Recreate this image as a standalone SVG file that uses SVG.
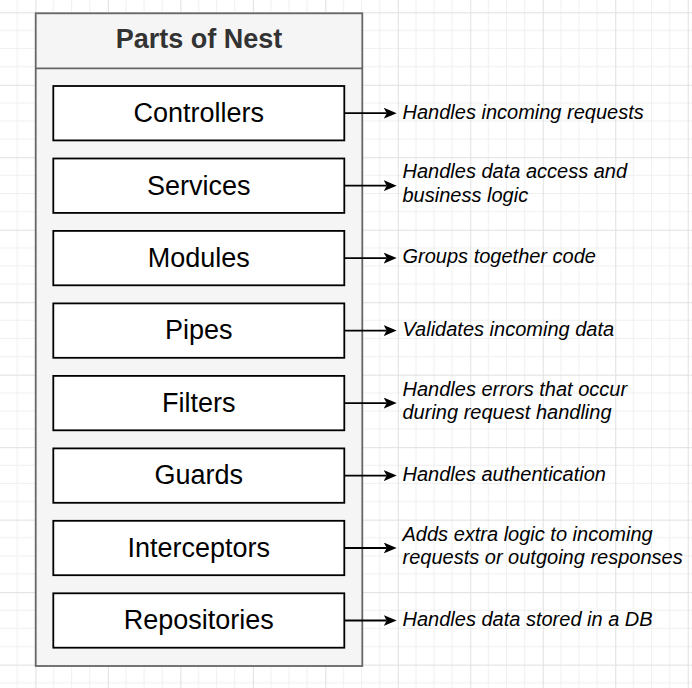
<svg xmlns="http://www.w3.org/2000/svg" width="692" height="688" viewBox="0 0 692 688">
<defs>
<pattern id="grid" patternUnits="userSpaceOnUse" x="35.4" y="12.3" width="72.48" height="72.48">
<path d="M18.12,0V72.48M36.24,0V72.48M54.36,0V72.48M0,18.12H72.48M0,36.24H72.48M0,54.36H72.48" stroke="#f0f0f0" stroke-width="1" fill="none"/>
<path d="M0.5,0V72.48M0,0.5H72.48" stroke="#e0e0e0" stroke-width="1" fill="none"/>
</pattern>
<marker id="arr" markerUnits="userSpaceOnUse" markerWidth="14" markerHeight="12" refX="3" refY="5.5" orient="auto">
<path d="M0,0 L13,5.5 L0,11 L3,5.5 Z" fill="#000"/>
</marker>
<style>
.part{fill:#fff;stroke:#000;stroke-width:1.8}
.pt{font-family:"Liberation Sans",Arial,sans-serif;font-size:27px;fill:#000;text-anchor:middle}
.desc{font-family:"Liberation Sans",Arial,sans-serif;font-size:20px;font-style:italic;fill:#000}
.conn{stroke:#000;stroke-width:1.8;fill:none;marker-end:url(#arr)}
</style>
</defs>
<rect width="692" height="688" fill="#fff"/>
<rect width="692" height="688" fill="url(#grid)"/>

<g id="container">
<rect x="35.7" y="13.3" width="326.6" height="652.7" fill="#f5f5f5" stroke="#666" stroke-width="1.8"/>
<line x1="35.7" y1="68.3" x2="362.3" y2="68.3" stroke="#666" stroke-width="1.8"/>
<text x="199" y="48.3" font-family="'Liberation Sans',Arial,sans-serif" font-size="27" font-weight="bold" fill="#333" text-anchor="middle">Parts of Nest</text>
</g>

<g id="controllers"><rect class="part" x="53.3" y="86" width="291" height="54.4"/><text class="pt" x="198.8" y="122">Controllers</text></g>
<g id="services"><rect class="part" x="53.3" y="158.5" width="291" height="54.4"/><text class="pt" x="198.8" y="194.5">Services</text></g>
<g id="modules"><rect class="part" x="53.3" y="230.9" width="291" height="54.4"/><text class="pt" x="198.8" y="267">Modules</text></g>
<g id="pipes"><rect class="part" x="53.3" y="303.4" width="291" height="54.4"/><text class="pt" x="198.8" y="339.4">Pipes</text></g>
<g id="filters"><rect class="part" x="53.3" y="375.9" width="291" height="54.4"/><text class="pt" x="198.8" y="411.9">Filters</text></g>
<g id="guards"><rect class="part" x="53.3" y="448.4" width="291" height="54.4"/><text class="pt" x="198.8" y="484.4">Guards</text></g>
<g id="interceptors"><rect class="part" x="53.3" y="520.8" width="291" height="54.4"/><text class="pt" x="198.8" y="556.9">Interceptors</text></g>
<g id="repositories"><rect class="part" x="53.3" y="593.3" width="291" height="54.4"/><text class="pt" x="198.8" y="629.3">Repositories</text></g>

<g id="desc-controllers"><text class="desc" x="402.5" y="118.5">Handles incoming requests</text></g>
<g id="desc-services"><text class="desc" x="402.5" y="178.4">Handles data access and</text><text class="desc" x="402.5" y="201.8">business logic</text></g>
<g id="desc-modules"><text class="desc" x="402.5" y="263.4">Groups together code</text></g>
<g id="desc-pipes"><text class="desc" x="402.5" y="335.9">Validates incoming data</text></g>
<g id="desc-filters"><text class="desc" x="402.5" y="395.9">Handles errors that occur</text><text class="desc" x="402.5" y="419.3">during request handling</text></g>
<g id="desc-guards"><text class="desc" x="402.5" y="480.9">Handles authentication</text></g>
<g id="desc-interceptors"><text class="desc" x="402.5" y="540.7">Adds extra logic to incoming</text><text class="desc" x="402.5" y="563.7">requests or outgoing responses</text></g>
<g id="desc-repositories"><text class="desc" x="402.5" y="625.8">Handles data stored in a DB</text></g>

<g id="connectors">
<line class="conn" x1="344.3" y1="113.2" x2="386.7" y2="113.2"/>
<line class="conn" x1="344.3" y1="185.7" x2="386.7" y2="185.7"/>
<line class="conn" x1="344.3" y1="258.1" x2="386.7" y2="258.1"/>
<line class="conn" x1="344.3" y1="330.6" x2="386.7" y2="330.6"/>
<line class="conn" x1="344.3" y1="403.1" x2="386.7" y2="403.1"/>
<line class="conn" x1="344.3" y1="475.6" x2="386.7" y2="475.6"/>
<line class="conn" x1="344.3" y1="548" x2="386.7" y2="548"/>
<line class="conn" x1="344.3" y1="620.5" x2="386.7" y2="620.5"/>
</g>
</svg>
